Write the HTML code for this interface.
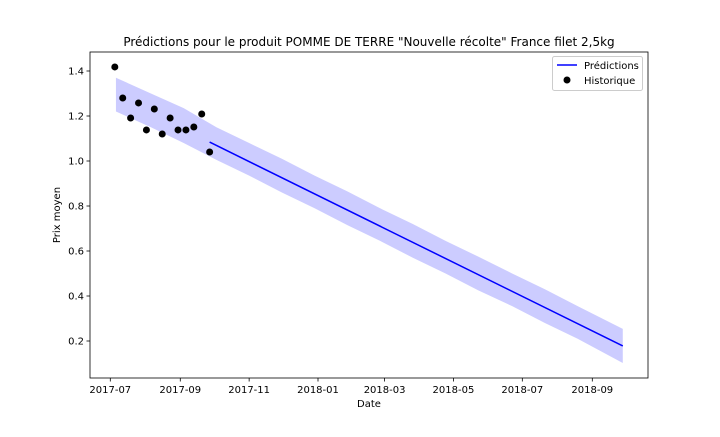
<!DOCTYPE html>
<html><head><meta charset="utf-8"><style>
body{margin:0;background:#fff;font-family:"Liberation Sans","DejaVu Sans",sans-serif}
svg text{font-family:"DejaVu Sans","Liberation Sans",sans-serif}
</style></head><body>
<svg id="c" width="720" height="432"></svg>
<script>
// day offsets from 2017-07-01
const histDays=[4,11,18,25,32,39,46,53,60,67,74,81,88];
const histVals=[1.418,1.280,1.191,1.258,1.138,1.231,1.120,1.191,1.138,1.138,1.151,1.209,1.040];
const bandDays=[5,36,65,94,123,152,181,210,239,268,297,326,356,385,414,454];
const bandUpper=[1.370,1.300,1.235,1.150,1.080,1.010,0.935,0.865,0.790,0.720,0.645,0.575,0.500,0.430,0.355,0.254];
const bandLower=[1.220,1.150,1.080,1.005,0.935,0.860,0.790,0.715,0.645,0.570,0.500,0.425,0.355,0.280,0.210,0.102];
const lineDays=[88,454];
const lineVals=[1.084,0.178];
const yTicks=[0.2,0.4,0.6,0.8,1.0,1.2,1.4];
const xTickLabels=["2017-07","2017-09","2017-11","2018-01","2018-03","2018-05","2018-07","2018-09"];
const xTickDays=[0,62,123,184,243,304,365,427];

const ns="http://www.w3.org/2000/svg",svg=document.getElementById('c');
const L=90,R=648,T=52,B=378;
const X=d=>110.3+d*(482/427);
const Y=v=>161-(v-1)*225;
function mk(t,a,p){const e=document.createElementNS(ns,t);for(const k in a)e.setAttribute(k,a[k]);(p||svg).appendChild(e);return e;}
let pts=bandDays.map((d,i)=>X(d)+','+Y(bandUpper[i]));
for(let i=bandDays.length-1;i>=0;i--)pts.push(X(bandDays[i])+','+Y(bandLower[i]));
const band=mk('polygon',{points:pts.join(' '),fill:'#ccccff',stroke:'none'});


const ln=mk('polyline',{points:lineDays.map((d,i)=>X(d)+','+Y(lineVals[i])).join(' '),fill:'none',stroke:'#0000ff','stroke-width':1.5});


histDays.forEach((d,i)=>{const c=mk('circle',{cx:X(d),cy:Y(histVals[i]),r:3.5,fill:'#000'});

});
const ax=mk('rect',{x:L,y:T,width:R-L,height:B-T,fill:'none',stroke:'#000','stroke-width':0.8});


yTicks.forEach(v=>{const y=Y(v);mk('line',{x1:L-3.5,x2:L,y1:y,y2:y,stroke:'#000','stroke-width':0.8});
const t=mk('text',{x:L-6,y:y+3.5,'text-anchor':'end','font-size':10});t.textContent=v.toFixed(1);

});
xTickDays.forEach((d,i)=>{const x=X(d);mk('line',{x1:x,x2:x,y1:B,y2:B+3.5,stroke:'#000','stroke-width':0.8});
const t=mk('text',{x:x,y:B+15,'text-anchor':'middle','font-size':10});t.textContent=xTickLabels[i];

});
</script>
<svg width="720" height="432" style="position:absolute;left:0;top:0">
<text x="369" y="46" text-anchor="middle" font-size="12">Prédictions pour le produit POMME DE TERRE "Nouvelle récolte" France filet 2,5kg</text>
<text x="369" y="407" text-anchor="middle" font-size="10">Date</text>
<text x="60" y="215" text-anchor="middle" font-size="10" transform="rotate(-90 60 215)">Prix moyen</text>
<g>
<rect x="552.5" y="56.5" width="90" height="34" rx="2" fill="#fff" stroke="#ccc"/>
<line x1="557" x2="577" y1="65" y2="65" stroke="#0000ff" stroke-width="1.5"/>
<text x="584" y="69" font-size="10">Prédictions</text>
<circle cx="567" cy="80" r="3.5" fill="#000"/>
<text x="584" y="84" font-size="10">Historique</text>
</g>
</svg>
</body></html>
